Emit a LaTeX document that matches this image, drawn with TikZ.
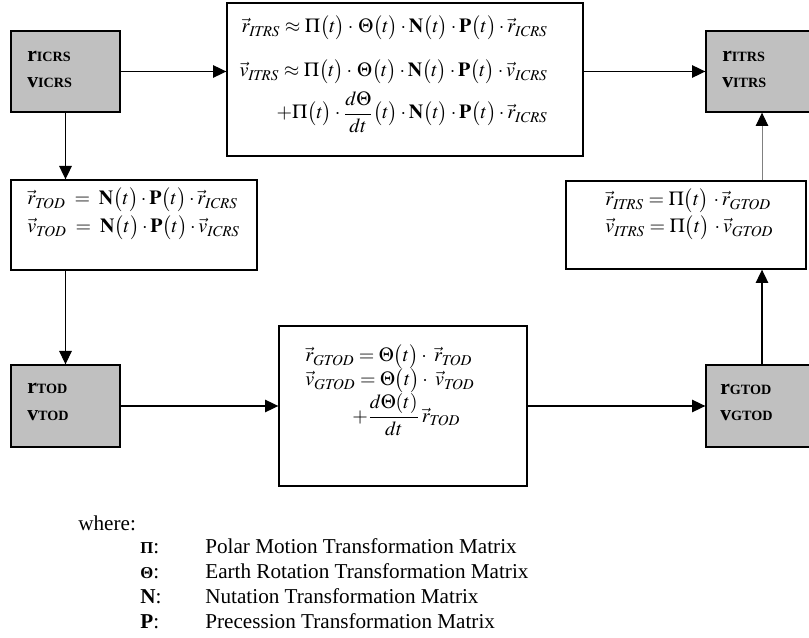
\documentclass[tikz,border=0pt]{standalone}
\usepackage{amsmath}
\usepackage{mathptmx}
\usepackage{fontspec}
\setmainfont{Liberation Serif}
\usetikzlibrary{arrows.meta,fit}
\definecolor{boxgray}{RGB}{192,192,192}
\newcommand\myr[1]{\vec{r}_{\mathit{#1}}}
\newcommand\myv[1]{\vec{v}_{\mathit{#1}}}
\newcommand\blab[2]{{\fontsize{13}{13}\selectfont\bfseries #1}{\fontsize{8.5}{8.5}\selectfont\bfseries #2}}
\newcommand\pt[1]{\bigl(#1\bigr)}
\tikzset{
 box/.style={draw=black, line width=0.8pt, inner sep=0pt, fill=white},
 gbox/.style={box, fill=boxgray},
 arr/.style={-{Triangle[length=8pt,width=7.5pt,color=black]}, line width=0.8pt},
 eq/.style={inner sep=0pt, font=\fontsize{12}{14}\selectfont},
 lab/.style={inner sep=0pt, anchor=base west},
 legend/.style={inner sep=0pt, anchor=base west, font=\fontsize{12.7}{15}\selectfont},
}
\begin{document}
\begin{tikzpicture}[x=0.6pt,y=-0.6pt]
\useasboundingbox (0,0) rectangle (809,638);
\clip (0,0) rectangle (809,638);
% boxes
\node[gbox, fit={(11,31) (120,112)}] (icrs) {};
\node[box, fit={(227,3) (583,156)}] (topeq) {};
\node[gbox, fit={(706,31) (818,112)}] (itrs) {};
\node[box, fit={(11,180) (257,270)}] (todeq) {};
\node[box, fit={(566,181) (806,269)}] (itrseq) {};
\node[gbox, fit={(11,365) (120,447)}] (tod) {};
\node[box, fit={(279,326) (527,486)}] (gtodeq) {};
\node[gbox, fit={(706,365) (818,447)}] (gtod) {};
% box labels
\node[lab] (icrsr) at (27,62) {\blab{r}{ICRS}};
\node[lab] (icrsv) at (27,88) {\blab{v}{ICRS}};
\node[lab] (itrsr) at (722,62) {\blab{r}{ITRS}};
\node[lab] (itrsv) at (722,88) {\blab{v}{ITRS}};
\node[lab] (todr) at (27,394) {\blab{r}{TOD}};
\node[lab] (todv) at (27,421) {\blab{v}{TOD}};
\node[lab] (gtodr) at (720,395) {\blab{r}{GTOD}};
\node[lab] (gtodv) at (720,421) {\blab{v}{GTOD}};
% top equations
\node[eq, anchor=base east] (t1) at (548,33) {$\myr{ITRS}\approx\Pi\pt{t}\cdot\,\Theta\pt{t}\cdot\mathbf{N}\pt{t}\cdot\mathbf{P}\pt{t}\cdot\myr{ICRS}$};
\node[eq, anchor=base east] (t2) at (548,77) {$\myv{ITRS}\approx\Pi\pt{t}\cdot\,\Theta\pt{t}\cdot\mathbf{N}\pt{t}\cdot\mathbf{P}\pt{t}\cdot\myv{ICRS}$};
\node[eq, anchor=base east] (t3) at (548,119) {$+\Pi\pt{t}\cdot\dfrac{d\Theta}{dt}\pt{t}\cdot\mathbf{N}\pt{t}\cdot\mathbf{P}\pt{t}\cdot\myr{ICRS}$};
% left equations
\node[eq, anchor=base west] (l1) at (27,205) {$\myr{TOD}\;=\;\mathbf{N}\pt{t}\cdot\mathbf{P}\pt{t}\cdot\myr{ICRS}$};
\node[eq, anchor=base west] (l2) at (27,233) {$\myv{TOD}\;=\;\mathbf{N}\pt{t}\cdot\mathbf{P}\pt{t}\cdot\myv{ICRS}$};
% right equations
\node[eq, anchor=base west] (r1) at (605,206) {$\myr{ITRS}=\Pi\pt{t}\,\cdot\myr{GTOD}$};
\node[eq, anchor=base west] (r2) at (605,233) {$\myv{ITRS}=\Pi\pt{t}\,\cdot\myv{GTOD}$};
% GTOD equations
\node[eq, anchor=base west] (g1) at (305,362) {$\myr{GTOD}=\Theta\pt{t}\cdot\;\myr{TOD}$};
\node[eq, anchor=base west] (g2) at (305,386) {$\myv{GTOD}=\Theta\pt{t}\cdot\;\myv{TOD}$};
\node[eq, anchor=base west] (g3) at (352,422) {$+\dfrac{d\Theta(t)}{dt}\,\myr{TOD}$};
% connectors
\draw[arr] (icrs.east) -- (icrs.east -| topeq.west);
\draw[arr] (topeq.east |- itrs.west) -- (itrs.west);
\draw[arr] (icrs.south) -- (icrs.south |- todeq.north);
\draw[arr, line width=0.6pt] (todeq.south -| tod.north) -- (tod.north);
\draw[arr] (tod.east) -- (tod.east -| gtodeq.west);
\draw[arr] (gtodeq.east |- gtod.west) -- (gtod.west);
\draw[arr] (gtod.north) -- (gtod.north |- itrseq.south);
\draw[arr, draw=gray, line width=0.6pt] (itrseq.north -| itrs.south) -- (itrs.south);
% legend
\node[legend] (where) at (78,530) {where:};
\node[legend] (s1) at (140,553) {{\fontsize{10}{10}\selectfont\bfseries Π}:};
\node[legend] (d1) at (205,553) {Polar Motion Transformation Matrix};
\node[legend] (s2) at (140,578) {{\fontsize{10}{10}\selectfont\bfseries Θ}:};
\node[legend] (d2) at (205,578) {Earth Rotation Transformation Matrix};
\node[legend] (s3) at (140,603) {\textbf{N}:};
\node[legend] (d3) at (205,603) {Nutation Transformation Matrix};
\node[legend] (s4) at (140,628) {\textbf{P}:};
\node[legend] (d4) at (205,628) {Precession Transformation Matrix};
\end{tikzpicture}
\end{document}
